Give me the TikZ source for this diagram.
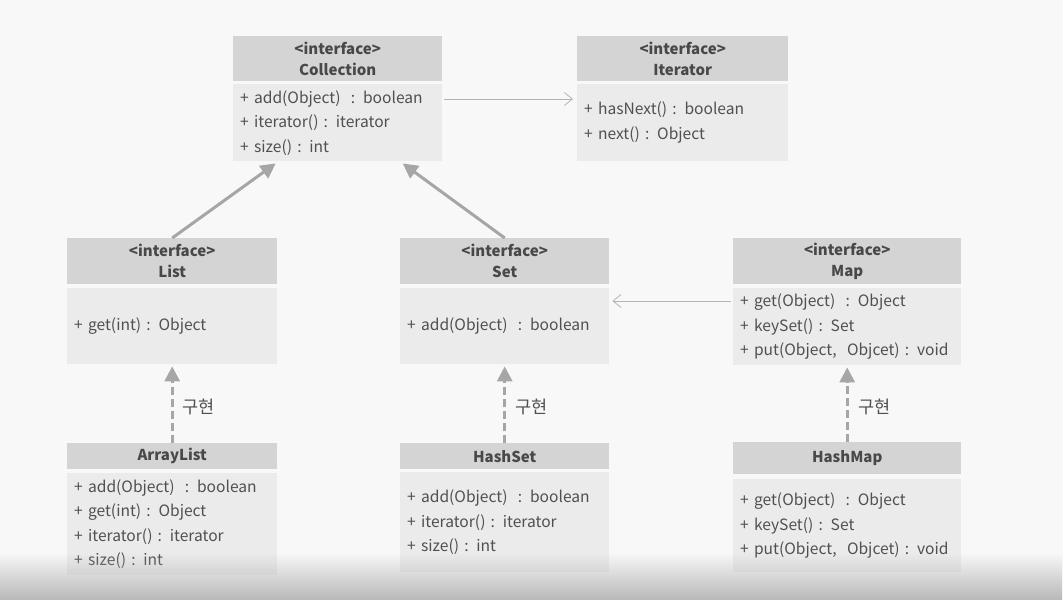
\documentclass[tikz,border=0pt]{standalone}
\usepackage{fontspec}
\setmainfont{Noto Sans CJK KR}
\usetikzlibrary{arrows.meta,fadings}

\definecolor{bg}{HTML}{F8F8F8}
\definecolor{hdrfill}{HTML}{D4D4D4}
\definecolor{bodyfill}{HTML}{EBEBEB}
\definecolor{ink}{HTML}{505050}
\definecolor{hdrink}{HTML}{484848}
\definecolor{linkgray}{HTML}{A6A6A6}
\definecolor{thinlink}{HTML}{B4B4B4}

\tikzset{
  hdr/.style={fill=hdrfill, anchor=north west, inner sep=0pt, align=center,
    text=hdrink, font=\fontsize{15}{21}\selectfont\bfseries},
  body/.style={fill=bodyfill, anchor=north west, inner ysep=0pt, inner xsep=7pt,
    align=left, text=ink, font=\fontsize{15.6}{24.5}\selectfont},
  inherit/.style={draw=linkgray, line width=3pt, -{Triangle[length=15pt,width=15pt]}},
  realize/.style={inherit, dash pattern=on 8pt off 4pt},
  assoc/.style={draw=thinlink, line width=0.8pt, -{Straight Barb[length=8pt,width=13pt]}},
  tag/.style={text=ink, font=\fontsize{17.5}{20}\selectfont, anchor=west, inner sep=0pt},
}

\begin{document}
\begin{tikzpicture}[x=1pt,y=-1pt]
  % page background
  \fill[bg] (0,0) rectangle (1063,600);
  \useasboundingbox (0,0) rectangle (1063,600);

  % Collection
  \node[hdr, minimum width=209pt, minimum height=45pt] (colH) at (233,36)
    {<interface>\\Collection};
  \node[body, text width=195pt, minimum height=77pt] (colB) at (233,84)
    {+ add(Object)\ \ : boolean\\+ iterator() : iterator\\+ size() : int};

  % Iterator
  \node[hdr, minimum width=211pt, minimum height=45pt] (itH) at (577,36)
    {<interface>\\Iterator};
  \node[body, text width=197pt, minimum height=77pt] (itB) at (577,84)
    {+ hasNext() : boolean\\+ next() : Object};

  % List
  \node[hdr, minimum width=210pt, minimum height=46pt] (listH) at (67,238)
    {<interface>\\List};
  \node[body, text width=196pt, minimum height=76pt] (listB) at (67,288)
    {+ get(int)\ : Object};

  % Set
  \node[hdr, minimum width=209pt, minimum height=46pt] (setH) at (400,238)
    {<interface>\\Set};
  \node[body, text width=195pt, minimum height=76pt] (setB) at (400,288)
    {+ add(Object)\ \ : boolean};

  % Map
  \node[hdr, minimum width=228pt, minimum height=46pt] (mapH) at (733,238)
    {<interface>\\Map};
  \node[body, text width=214pt, minimum height=77pt] (mapB) at (733,288)
    {+ get(Object)\ \ : Object\\+ keySet() : Set\\+ put(Object,\ \ Objcet) : void};

  % ArrayList
  \node[hdr, minimum width=210pt, minimum height=26pt] (alH) at (67,443)
    {ArrayList};
  \node[body, text width=196pt, minimum height=102pt] (alB) at (67,473)
    {+ add(Object)\ \ : boolean\\+ get(int) : Object\\+ iterator() : iterator\\+ size() : int};

  % HashSet
  \node[hdr, minimum width=209pt, minimum height=26pt] (hsH) at (400,443)
    {HashSet};
  \node[body, text width=195pt, minimum height=100pt] (hsB) at (400,472)
    {+ add(Object)\ \ : boolean\\+ iterator() : iterator\\+ size() : int};

  % HashMap
  \node[hdr, minimum width=228pt, minimum height=32pt] (hmH) at (733,442)
    {HashMap};
  \node[body, text width=214pt, minimum height=93pt] (hmB) at (733,479)
    {+ get(Object)\ \ : Object\\+ keySet() : Set\\+ put(Object,\ \ Objcet) : void};

  % associations
  \draw[assoc] ([shift={(2pt,-15pt)}]colB.north east) -- ([shift={(-4pt,-15pt)}]itB.north west);
  \draw[assoc] ([shift={(-2pt,-13pt)}]mapB.north west) -- ([shift={(3pt,-13pt)}]setB.north east);

  % generalisation
  \draw[inherit] (listH.north) -- ([shift={(-62pt,-2pt)}]colB.south);
  \draw[inherit] (setH.north) -- ([shift={(65pt,-2pt)}]colB.south);

  % realisation
  \draw[realize] (alH.north) -- ([yshift=-2pt]listB.south);
  \draw[realize] (hsH.north) -- ([yshift=-2pt]setB.south);
  \draw[realize] (hmH.north) -- ([yshift=-2pt]mapB.south);

  \node[tag] (t1) at (182,407) {구현};
  \node[tag] (t2) at (515,407) {구현};
  \node[tag] (t3) at (858,407) {구현};

  % darkening band along the lower edge
  \fill[black!28, path fading=north] (0,553) rectangle (1063,600);
\end{tikzpicture}
\end{document}
